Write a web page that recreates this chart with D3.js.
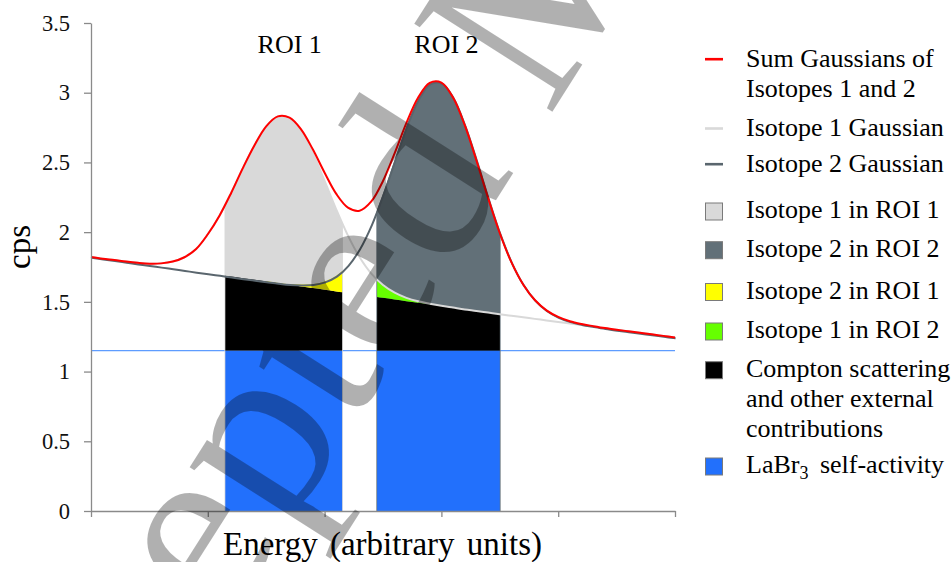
<!DOCTYPE html>
<html>
<head>
<meta charset="utf-8">
<script src="https://cdn.jsdelivr.net/npm/d3@7"></script>
<style>
  html, body { margin: 0; padding: 0; background: #fff; }
  svg { display: block; font-family: "Liberation Serif", "Times New Roman", serif; }
</style>
</head>
<body>
<svg id="chart" width="951" height="562"></svg>
<script>
// Energy grid (arbitrary units) and the spectrum components sampled on it
const energy = [0,2,4,6,8,10,12,14,16,18,20,22,24,26,28,30,32,34,36,38,40,42,44,46,48,50,
                52,54,56,58,60,62,64,66,68,70,72,74,76,78,80,82,84,86,88,90,92,94,96,98,100];

// Top of the Compton / external background (cps)
const background = [1.822,1.810,1.799,1.787,1.775,1.763,1.752,1.740,1.728,1.716,1.705,1.693,1.681,
                    1.669,1.658,1.646,1.634,1.622,1.611,1.599,1.587,1.575,1.564,1.552,1.540,1.529,
                    1.517,1.505,1.493,1.482,1.470,1.458,1.446,1.435,1.423,1.411,1.400,1.389,1.378,
                    1.367,1.356,1.345,1.334,1.323,1.311,1.300,1.289,1.278,1.267,1.256,1.245];

// Net Gaussian peak of isotope 1 above the background (cps)
const isotope1 = [0.000,0.000,0.001,0.002,0.005,0.011,0.024,0.049,0.092,0.163,0.280,0.425,0.600,
                  0.790,0.965,1.112,1.194,1.194,1.112,0.965,0.780,0.587,0.411,0.268,0.163,0.092,
                  0.049,0.024,0.011,0.005,0.002,0.001,0,0,0,0,0,0,0,0,0,0,0,0,0,0,0,0,0,0,0];

// Net Gaussian peak of isotope 2 above the background (cps)
const isotope2 = [0,0,0,0,0,0,0,0,0,0,0,0,0,0,0.000,0.001,0.002,0.005,0.013,0.028,0.059,0.112,
                  0.201,0.334,0.517,0.746,1.001,1.253,1.460,1.584,1.601,1.507,1.321,1.079,0.821,
                  0.581,0.383,0.236,0.135,0.072,0.036,0.016,0.007,0.003,0.001,0,0,0,0,0,0];

// Constant LaBr3 intrinsic activity level (cps)
const selfActivity = 1.15;

// Regions of interest (energy bounds)
const roi1 = [23, 43];
const roi2 = [49, 70];
const roiLabels = ["ROI 1", "ROI 2"];

// Axis ticks
const yTicks = [0, 0.5, 1, 1.5, 2, 2.5, 3, 3.5];
const xTicks = [0, 20, 40, 60, 80, 100];

// Legend entries
const legendLabels = [
  ["Sum Gaussians of", "Isotopes 1 and 2"],
  ["Isotope 1 Gaussian"],
  ["Isotope 2 Gaussian"],
  ["Isotope 1 in ROI 1"],
  ["Isotope 2 in ROI 2"],
  ["Isotope 2 in ROI 1"],
  ["Isotope 1 in ROI 2"],
  ["Compton scattering", "and other external", "contributions"],
  ["LaBr3 self-activity"]
];

const watermark = "Accepted Manuscript";

// ---------------------------------------------------------------------------
const C = {
  red: "#ff0000",
  iso1: "#d9d9d9",
  iso2: "#627078",
  iso2Line: "#5a666e",
  yellow: "#ffff00",
  green: "#66ff00",
  black: "#000000",
  blue: "#2270fc",
  blueLine: "#5e9cff",
  axis: "#8a8a8a"
};
const FONT = "Liberation Serif, Times New Roman, serif";

const svg = d3.select("#chart");
svg.append("rect").attr("width", 951).attr("height", 562).attr("fill", "#fff");

const x = d3.scaleLinear().domain([0, 100]).range([91, 675]);
const y = d3.scaleLinear().domain([0, 3.5]).range([511, 23]);

const rows = energy.map((e, i) => ({
  e,
  bg: background[i],
  i1: isotope1[i],
  i2: isotope2[i]
}));

const curve = d3.curveCatmullRom.alpha(0.5);
const band = (lo, hi) => d3.area().x(d => x(d.e)).y0(d => y(lo(d))).y1(d => y(hi(d))).curve(curve);
const trace = f => d3.line().x(d => x(d.e)).y(d => y(f(d))).curve(curve);

// clip paths for the two ROI columns (the padded ones leave a thin edge of the base fill)
const defs = svg.append("defs");
function addClip(id, roi, pad) {
  defs.append("clipPath").attr("id", id)
    .append("rect")
    .attr("x", x(roi[0]) - pad)
    .attr("width", x(roi[1]) - x(roi[0]) + 2 * pad)
    .attr("y", 0).attr("height", 562);
}
addClip("roi1", roi1, 0);
addClip("roi1edge", roi1, 0.8);
addClip("roi2", roi2, 0);
addClip("roi2edge", roi2, 0.8);

// self-activity level across the full spectrum
svg.append("line")
  .attr("x1", x(0)).attr("x2", x(100))
  .attr("y1", y(selfActivity)).attr("y2", y(selfActivity))
  .attr("stroke", C.blueLine).attr("stroke-width", 1.4);

// ROI 1: isotope 1 counts, with isotope 2 spill-over, background and self-activity
svg.append("path").datum(rows).attr("clip-path", "url(#roi1edge)")
  .attr("d", band(() => 0, d => d.bg + d.i1)).attr("fill", C.iso1);
const g1 = svg.append("g").attr("clip-path", "url(#roi1)");
g1.append("path").datum(rows).attr("d", band(() => selfActivity, d => d.bg)).attr("fill", C.black);
g1.append("path").datum(rows).attr("d", band(() => 0, () => selfActivity)).attr("fill", C.blue);
g1.append("path").datum(rows).attr("d", band(d => d.bg, d => d.bg + d.i2)).attr("fill", C.yellow);

// ROI 2: isotope 2 counts, with isotope 1 spill-over, background and self-activity
svg.append("path").datum(rows).attr("clip-path", "url(#roi2edge)")
  .attr("d", band(() => 0, d => d.bg + d.i2)).attr("fill", C.iso2);
const g2 = svg.append("g").attr("clip-path", "url(#roi2)");
g2.append("path").datum(rows).attr("d", band(() => selfActivity, d => d.bg)).attr("fill", C.black);
g2.append("path").datum(rows).attr("d", band(() => 0, () => selfActivity)).attr("fill", C.blue);
g2.append("path").datum(rows).attr("d", band(d => d.bg, d => d.bg + d.i1)).attr("fill", C.green);

// Gaussian traces
svg.append("path").datum(rows).attr("d", trace(d => d.bg + d.i1))
  .attr("fill", "none").attr("stroke", C.iso1).attr("stroke-width", 2);
svg.append("path").datum(rows).attr("d", trace(d => d.bg + d.i2))
  .attr("transform", "translate(0.6,0.9)")
  .attr("fill", "none").attr("stroke", C.iso2Line).attr("stroke-width", 2);
svg.append("path").datum(rows).attr("d", trace(d => d.bg + d.i1 + d.i2))
  .attr("fill", "none").attr("stroke", C.red).attr("stroke-width", 2);

// ROI captions
[roi1, roi2].forEach((roi, i) => {
  svg.append("text")
    .attr("x", (x(roi[0]) + x(roi[1])) / 2 + 6 + i * 2)
    .attr("y", 53)
    .attr("text-anchor", "middle")
    .attr("font-family", FONT)
    .attr("font-size", 26)
    .attr("fill", "#000")
    .text(roiLabels[i]);
});

// Axes
const yAxis = svg.append("g").attr("transform", `translate(${x(0)},0)`)
  .call(d3.axisLeft(y).tickValues(yTicks).tickSize(7).tickSizeOuter(0).tickPadding(14)
    .tickFormat(d => String(d)));
const xAxis = svg.append("g").attr("transform", `translate(0,${y(0)})`)
  .call(d3.axisBottom(x).tickValues(xTicks).tickSize(6).tickSizeOuter(0).tickFormat(""));
[yAxis, xAxis].forEach(a => {
  a.attr("font-family", FONT);
  a.select(".domain").attr("stroke", C.axis).attr("stroke-width", 1.3);
  a.selectAll(".tick line").attr("stroke", C.axis).attr("stroke-width", 1.3);
  a.selectAll("text").attr("font-family", FONT)
    .attr("font-size", 22.5).attr("fill", "#111");
});

svg.append("text")
  .attr("transform", "translate(30,247) rotate(-90)")
  .attr("text-anchor", "middle").attr("font-family", FONT).attr("font-size", 33).attr("fill", "#000")
  .text("cps");

svg.append("text")
  .attr("x", 382.5).attr("y", 555)
  .attr("text-anchor", "middle").attr("font-family", FONT).attr("font-size", 33)
  .attr("word-spacing", 4).attr("fill", "#000")
  .text("Energy (arbitrary units)");

// Legend
const legendMarks = [
  { kind: "line", color: C.red },
  { kind: "line", color: C.iso1 },
  { kind: "line", color: C.iso2Line },
  { kind: "box", color: C.iso1 },
  { kind: "box", color: C.iso2 },
  { kind: "box", color: C.yellow },
  { kind: "box", color: C.green },
  { kind: "box", color: C.black },
  { kind: "box", color: C.blue }
];
const legendBaselines = [66.7, 136, 171.7, 218, 256.7, 298.5, 338, 376.7, 473];
const legend = svg.append("g").attr("font-family", FONT);
legendLabels.forEach((lines, i) => {
  const base = legendBaselines[i];
  const m = legendMarks[i];
  if (m.kind === "line") {
    legend.append("line").attr("x1", 705).attr("x2", 723)
      .attr("y1", base - 7.5).attr("y2", base - 7.5)
      .attr("stroke", m.color).attr("stroke-width", 2.6);
  } else {
    legend.append("rect").attr("x", 705.5).attr("y", base - 15).attr("width", 17).attr("height", 17)
      .attr("fill", m.color).attr("stroke", "#7a7a7a").attr("stroke-width", 1);
  }
  lines.forEach((ln, j) => {
    const t = legend.append("text").attr("x", 746).attr("y", base + j * 30)
      .attr("font-size", 26).attr("fill", "#000");
    const sub = ln.match(/^(LaBr)(3)(.*)$/);
    if (sub) {
      t.append("tspan").text(sub[1]);
      t.append("tspan").attr("font-size", 18).attr("dy", 6).text(sub[2]);
      t.append("tspan").attr("dy", -6).attr("dx", 5).text(sub[3]);
    } else {
      t.text(ln);
    }
  });
});

// Diagonal watermark
svg.append("text")
  .attr("transform", "translate(584,62) rotate(-57.5)")
  .attr("text-anchor", "middle")
  .attr("font-family", FONT)
  .attr("font-size", 250)
  .attr("fill", "#000")
  .attr("fill-opacity", 0.31)
  .text(watermark);
</script>
</body>
</html>
